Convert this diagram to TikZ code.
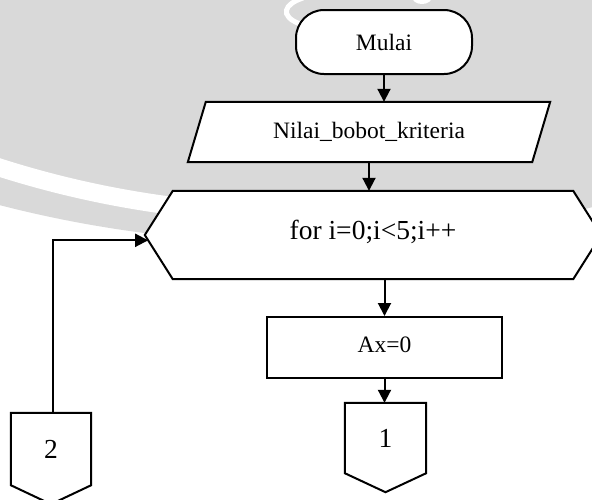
\documentclass[tikz,border=0pt]{standalone}
\usepackage{fontspec}
\setmainfont{Liberation Serif}
\usetikzlibrary{arrows.meta,calc}
\definecolor{logogrey}{HTML}{D9D9D9}
\pgfdeclarelayer{back}
\pgfdeclarelayer{shapes}
\pgfsetlayers{back,shapes,main}
\begin{document}
\begin{tikzpicture}[x=1pt,y=-1pt,
  lbl/.style={font=\fontsize{23.5}{28}\selectfont, inner sep=0pt},
  biglbl/.style={font=\fontsize{27.5}{33}\selectfont, inner sep=0pt},
  outline/.style={draw=black, fill=white, line width=2pt, line join=miter},
  term/.style={lbl, draw=black, fill=white, line width=2pt, rounded corners=28pt,
               minimum width=176pt, minimum height=64pt},
  procbox/.style={lbl, draw=black, fill=white, line width=2pt,
               minimum width=235pt, minimum height=61pt},
  frame/.style={minimum width=#1},
  arr/.style={draw=black, line width=2pt, -{Triangle[length=13pt,width=13pt]}}]
\useasboundingbox (0,0) rectangle (592,499);
\clip (0,0) rectangle (592,499);

% background: the grey logo disc with its light ring
\begin{pgfonlayer}{back}
  \fill[white] (0,0) rectangle (592,499);
  \fill[logogrey] (300,-957) circle (1200pt);
  \begin{scope}
    \clip (0,0) rectangle (300,260);
    \draw[white, line width=18pt] (300,-775) circle (989pt);
  \end{scope}
  \draw[white, line width=5pt, line cap=round]
    (303,-2) .. controls (284,4) and (279,16) .. (300,24);
  \fill[white] (422,-3) ellipse (10pt and 7pt);
\end{pgfonlayer}

% flowchart nodes
\node[term] (start) at (384,42) {Mulai};
\node[lbl, frame=362pt, minimum height=60pt] (input) at (369,132) {Nilai\_bobot\_kriteria};
\node[biglbl, frame=400pt, minimum height=88pt] (loop) at (373,235) {\raisebox{10pt}{for i=0;i<5;i++}};
\node[procbox] (ax) at (384.5,347.5) {\raisebox{5pt}{Ax=0}};
\node[biglbl, frame=81pt, minimum height=70pt] (c1) at (385.5,438) {1};
\node[biglbl, frame=80pt, minimum height=72pt] (c2) at (51,449) {2};

\coordinate (loopW) at ($(loop.west)+(-28,0)$);
\coordinate (loopE) at ($(loop.east)+(28,0)$);
\coordinate (loopIn) at ($(loopW)!0.12!(loop.south west)$);

% outlines drawn behind the labels
\begin{pgfonlayer}{shapes}
  \draw[outline] ($(input.north west)+(18,0)$) -- (input.north east)
    -- ($(input.south east)+(-18,0)$) -- (input.south west) -- cycle;
  \draw[outline] (loop.north west) -- (loop.north east) -- (loopE)
    -- (loop.south east) -- (loop.south west) -- (loopW) -- cycle;
  \draw[outline] (c1.north west) -- (c1.north east) -- (c1.south east)
    -- ($(c1.south)+(0,19)$) -- (c1.south west) -- cycle;
  \draw[outline] (c2.north west) -- (c2.north east) -- (c2.south east)
    -- ($(c2.south)+(0,19)$) -- (c2.south west) -- cycle;
\end{pgfonlayer}

% connectors
\draw[arr] (start.south) -- (start.south |- input.north);
\draw[arr] (input.south) -- (input.south |- loop.north);
\draw[arr] (ax.north |- loop.south) -- (ax.north);
\draw[arr] (ax.south) -- (ax.south |- c1.north);
\draw[arr] ($(c2.north)+(2,0)$) |- (loopIn);
\end{tikzpicture}
\end{document}
